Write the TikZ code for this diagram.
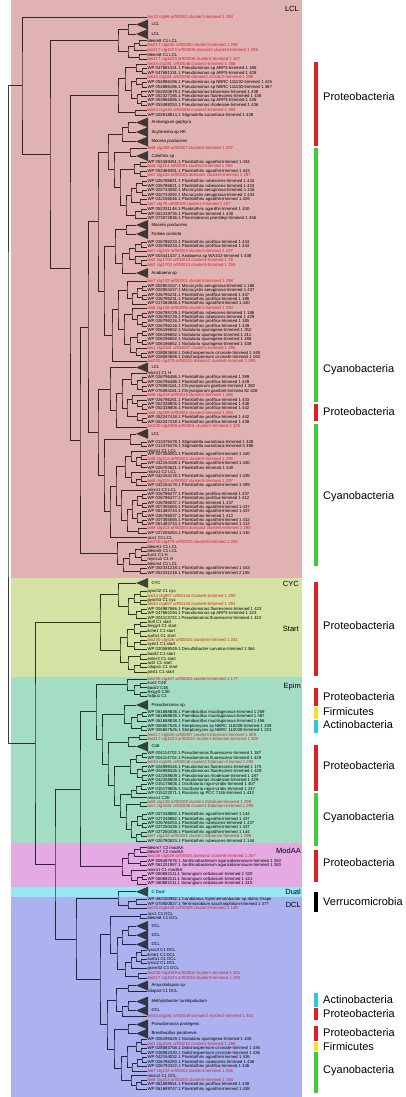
\documentclass[tikz,border=0pt]{standalone}
\usepackage{fontspec}
\setmainfont{Liberation Sans}
\usetikzlibrary{calc}
\definecolor{lclbg}{RGB}{224,178,178}
\definecolor{cycbg}{RGB}{212,226,163}
\definecolor{epibg}{RGB}{164,220,196}
\definecolor{modbg}{RGB}{228,170,228}
\definecolor{dualbg}{RGB}{150,232,245}
\definecolor{dclbg}{RGB}{172,178,240}
\definecolor{redt}{RGB}{215,30,40}
\definecolor{barred}{RGB}{225,30,35}
\definecolor{bargreen}{RGB}{60,205,60}
\definecolor{baryellow}{RGB}{245,225,40}
\definecolor{barcyan}{RGB}{40,200,235}
\tikzset{
 br/.style={draw=black,draw opacity=0.78,line width=0.55pt},
 lab/.style={anchor=west,inner sep=0.3pt,font=\fontsize{4.3}{4.3}\selectfont,text=black},
 redlab/.style={lab,text=redt},
 tri/.style={fill=black,fill opacity=0.7},
 regl/.style={anchor=east,inner sep=0pt,font=\fontsize{7.5}{7.5}\selectfont},
 taxon/.style={anchor=west,inner sep=0pt,font=\fontsize{11}{11}\selectfont},
 bar/.style={line width=3.2pt},
}
\newcommand\leafB[3]{\coordinate (#1) at (147,#2);\node[lab] (#1t) at (147,#2) {#3};}
\newcommand\leafR[3]{\coordinate (#1) at (147,#2);\node[redlab] (#1t) at (147,#2) {#3};}
\newcommand\triN[3]{\coordinate (#1) at (136,#2);\fill[tri] (136,#2) -- (148,#2-5) -- (148,#2+5) -- cycle;\node[lab] (#1t) at (151,#2) {#3};}
\newcommand\joinN[4]{\path let \p1=($(#3)!.5!(#4)$) in coordinate (#1) at (#2pt,\y1);\draw[br] (#3) -| (#1) |- (#4);}
\begin{document}
\begin{tikzpicture}[x=1pt,y=-1pt]
\useasboundingbox (0,0) rectangle (406,1097);
\fill[white] (0,0) rectangle (406,1097);
% regions
\fill[lclbg] (11,0) rectangle (302,578);
\fill[cycbg] (11,578) rectangle (302,677);
\fill[epibg] (11,677) rectangle (302,843);
\fill[modbg] (11,843) rectangle (302,887);
\fill[dualbg] (11,887) rectangle (302,897);
\fill[dclbg] (11,897) rectangle (302,1097);
\node[regl] (rLCL) at (299,9) {LCL};
\node[regl] (rCYC) at (299,584) {CYC};
\node[regl] (rStart) at (299,629) {Start};
\node[regl] (rEpim) at (301,687) {Epim};
\node[regl] (rMod) at (301,851) {ModAA};
\node[regl] (rDual) at (301,892) {Dual};
\node[regl] (rDCL) at (301,905) {DCL};
% leaves
\leafR{L1}{17}{bin13 ctg96 orf00002 cluster1-trimmed 1 294}
\triN{T1}{24.5}{LCL}
\triN{T2}{34}{LCL}
\leafB{L4}{40.7}{bleom8 C1 LCL}
\leafR{L5}{45.4}{bin217 ctg645 orf00050 cluster3-trimmed 1 298}
\leafR{L6}{50}{bin217 ctg1023 orf00008 domain2 cluster4-trimmed 1 296}
\leafB{L7}{54.7}{bleom8 C1 LCL}
\leafR{L8}{59.3}{bin217 ctg1023 orf00008 cluster4-trimmed 1 287}
\leafR{L9}{64}{bin34 ctg181 orf00048 cluster2-trimmed 1 298}
\leafB{L10}{68.6}{WP 047681331.1 Pseudomonas sp ARP3-trimmed 1 186}
\leafB{L11}{73.2}{WP 047681331.1 Pseudomonas sp ARP3-trimmed 1 428}
\leafR{L12}{77.8}{bin34 ctg181 orf00048 domain2 cluster2-trimmed 1 298}
\leafB{L13}{82.4}{WP 054886186.1 Pseudomonas sp NBRC 111130-trimmed 1 415}
\leafB{L14}{87}{WP 054886186.1 Pseudomonas sp NBRC 111130-trimmed 1 367}
\leafB{L15}{91.6}{WP 052020679.1 Pseudomonas kilonensis-trimmed 1 438}
\leafB{L16}{96.2}{WP 052327185.1 Pseudomonas fluorescens-trimmed 1 436}
\leafB{L17}{100.8}{WP 053966086.1 Pseudomonas sp ARP3-trimmed 1 436}
\leafB{L18}{105.4}{WP 053488253.1 Pseudomonas rhodesiae-trimmed 1 436}
\leafR{L19}{110.2}{bin54 ctg410 orf00004 cluster2-trimmed 1 290}
\leafB{L20}{115}{WP 002618814.1 Stigmatella aurantiaca-trimmed 1 428}
\triN{T3}{122.5}{Archangium gephyra}
\triN{T4}{132}{Scytonema sp HK}
\triN{T5}{141.5}{Moorea producens}
\leafR{L24}{148.5}{bin8 ctg208 orf00007 cluster2-trimmed 1 297}
\triN{T6}{156}{Calothrix sp}
\leafB{L26}{162}{WP 052469451.1 Planktothrix agardhii-trimmed 1 434}
\leafR{L27}{166.5}{bin8 ctg114 orf00001 cluster3-trimmed 1 293}
\leafB{L28}{171}{WP 052469451.1 Planktothrix agardhii-trimmed 1 443}
\leafR{L29}{175.8}{bin7 ctg132 orf00003 domain2 cluster4-trimmed 1 297}
\leafB{L30}{181}{WP 026786821.1 Planktothrix rubescens-trimmed 1 443}
\leafB{L31}{185.7}{WP 026786821.1 Planktothrix rubescens-trimmed 1 434}
\leafB{L32}{190.3}{WP 002733092.1 Microcystis aeruginosa-trimmed 1 416}
\leafB{L33}{195}{WP 002733092.1 Microcystis aeruginosa-trimmed 1 433}
\leafB{L34}{199.6}{WP 042156046.1 Planktothrix agardhii-trimmed 1 429}
\leafR{L35}{204.3}{bin7 ctg78 orf00009 cluster1-trimmed 1 287}
\leafB{L36}{209}{WP 052331148.1 Planktothrix agardhii-trimmed 1 440}
\leafB{L37}{213.6}{WP 051319735.1 Planktothrix-trimmed 1 440}
\leafB{L38}{218.3}{WP 073072836.1 Phormidesmis priestleyi-trimmed 1 436}
\triN{T7}{225}{Moorea producens}
\triN{T8}{234}{Fortiea contorta}
\leafB{L41}{242.3}{WP 026786233.1 Planktothrix prolifica-trimmed 1 434}
\leafB{L42}{246.8}{WP 026786233.1 Planktothrix prolifica-trimmed 1 443}
\leafR{L43}{251.3}{bin7 ctg132 orf00003 cluster4-trimmed 1 297}
\leafB{L44}{256}{WP 003441437.1 Anabaena sp WA102-trimmed 1 438}
\leafR{L45}{260.6}{bin2 ctg1700 orf00013 cluster3-trimmed 1 76}
\leafR{L46}{265.2}{bin2 ctg1700 orf00014 cluster3-trimmed 1 155}
\triN{T9}{273}{Anabaena sp}
\leafR{L48}{281.7}{bin7 ctg132 orf00001 cluster4-trimmed 1 298}
\leafB{L49}{286.2}{WP 002804157.1 Microcystis aeruginosa-trimmed 1 186}
\leafB{L50}{290.6}{WP 002804157.1 Microcystis aeruginosa-trimmed 1 437}
\leafB{L51}{295}{WP 026795231.1 Planktothrix prolifica-trimmed 1 437}
\leafB{L52}{299.4}{WP 026795231.1 Planktothrix prolifica-trimmed 1 186}
\leafB{L53}{303.8}{WP 017262648.1 Planktothrix agardhii-trimmed 1 440}
\leafR{L54}{308.3}{bin8 ctg138 orf00006 cluster1-trimmed 1 290}
\leafB{L55}{312.8}{WP 026785729.1 Planktothrix rubescens-trimmed 1 186}
\leafB{L56}{317.3}{WP 026785729.1 Planktothrix rubescens-trimmed 1 429}
\leafB{L57}{321.8}{WP 026796216.1 Planktothrix prolifica-trimmed 1 185}
\leafB{L58}{326.3}{WP 026796216.1 Planktothrix prolifica-trimmed 1 439}
\leafB{L59}{330.8}{WP 006196652.1 Nodularia spumigena-trimmed 1 352}
\leafB{L60}{335.3}{WP 006196652.1 Nodularia spumigena-trimmed 1 411}
\leafB{L61}{339.8}{WP 006196652.1 Nodularia spumigena-trimmed 1 186}
\leafB{L62}{344.3}{WP 006196652.1 Nodularia spumigena-trimmed 1 438}
\leafR{L63}{348.7}{bin1 ctg2181 orf00007 cluster1-trimmed 1 290}
\leafB{L64}{353}{WP 028083658.1 Dolichospermum circinale-trimmed 1 449}
\leafB{L65}{357.3}{WP 028083658.1 Dolichospermum circinale-trimmed 1 163}
\leafR{L66}{361.5}{bin230 ctg478 orf00015 domain2 cluster5-trimmed 1 295}
\triN{T10}{367.5}{LCL}
\leafB{L68}{373.3}{micro1 C1 H}
\leafB{L69}{377.7}{WP 026796486.1 Planktothrix prolifica-trimmed 1 399}
\leafB{L70}{382.2}{WP 026796486.1 Planktothrix prolifica-trimmed 1 429}
\leafB{L71}{386.7}{WP 076084161.1 Chrysosporum gambirii-trimmed 1 382}
\leafB{L72}{391.1}{WP 076084161.1 Chrysosporum gambirii-trimmed 82 328}
\leafR{L73}{395.6}{bin8 ctg218 orf00013 cluster1-trimmed 1 286}
\leafB{L74}{400}{WP 026796261.1 Planktothrix prolifica-trimmed 1 433}
\leafB{L75}{404.4}{WP 052338806.1 Planktothrix prolifica-trimmed 1 438}
\leafB{L76}{408.8}{WP 052338806.1 Planktothrix prolifica-trimmed 1 442}
\leafR{L77}{413.3}{bin8 ctg208 orf00002 cluster2-trimmed 1 284}
\leafB{L78}{417.8}{WP 052247418.1 Planktothrix prolifica-trimmed 1 442}
\leafB{L79}{422.3}{WP 052247418.1 Planktothrix prolifica-trimmed 1 438}
\leafR{L80}{426.8}{bin230 ctg2069 orf00001 cluster1-trimmed 1 325}
\triN{T11}{433.8}{LCL}
\leafB{L82}{442.3}{WP 013376478.1 Stigmatella aurantiaca-trimmed 1 428}
\leafB{L83}{446.7}{WP 013376478.1 Stigmatella aurantiaca-trimmed 5 396}
\leafB{L84}{450.8}{micro1 C1 LCL}
\leafB{L85}{454.8}{WP 007355054.1 Planktothrix agardhii-trimmed 1 440}
\leafR{L86}{459}{bin8 ctg213 orf00003 cluster5-trimmed 1 295}
\leafB{L87}{463.3}{WP 042154168.1 Planktothrix agardhii-trimmed 1 440}
\leafB{L88}{467.7}{WP 026782621.1 Planktothrix-trimmed 1 440}
\leafB{L89}{472.2}{micro1 C2 LCL}
\leafB{L90}{476.6}{WP 042154178.1 Planktothrix agardhii-trimmed 1 435}
\leafR{L91}{481}{bin8 ctg215 orf00002 cluster5-trimmed 1 297}
\leafB{L92}{485.5}{WP 042154178.1 Planktothrix agardhii-trimmed 1 399}
\leafB{L93}{490}{micro1 C2 LCL}
\leafB{L94}{494.3}{WP 026796477.1 Planktothrix prolifica-trimmed 1 437}
\leafB{L95}{498.6}{WP 026796477.1 Planktothrix prolifica-trimmed 1 412}
\leafB{L96}{502.9}{WP 026786037.1 Planktothrix-trimmed 1 437}
\leafB{L97}{507.2}{WP 007355065.1 Planktothrix agardhii-trimmed 1 437}
\leafB{L98}{511.5}{WP 061483743.1 Planktothrix agardhii-trimmed 1 437}
\leafB{L99}{515.8}{WP 026786037.1 Planktothrix-trimmed 1 412}
\leafB{L100}{520.1}{WP 007355065.1 Planktothrix agardhii-trimmed 1 412}
\leafB{L101}{524.4}{WP 061483743.1 Planktothrix agardhii-trimmed 1 412}
\leafR{L102}{528.7}{bin8 ctg213 orf00003 domain2 cluster5-trimmed 1 295}
\leafB{L103}{533.2}{WP 027255263.1 Planktothrix agardhii-trimmed 1 410}
\leafB{L104}{537.7}{acv1 C1 LCL}
\leafR{L105}{542.4}{bin230 ctg478 orf00015 cluster5-trimmed 1 293}
\leafB{L106}{546.8}{bleom1 C1 LCL}
\leafB{L107}{551.1}{bleom5 C1 LCL}
\leafB{L108}{555.4}{itun1 C1 H}
\leafB{L109}{559.8}{mycsu1 C1 H}
\leafB{L110}{564.2}{bleom4 C1 LCL}
\leafB{L111}{568.6}{WP 052331218.1 Planktothrix agardhii-trimmed 1 443}
\leafB{L112}{573}{WP 052331218.1 Planktothrix agardhii-trimmed 2 155}
\triN{T12}{583}{CYC}
\leafB{L114}{591.7}{pyoch2 C1 cyc}
\leafR{L115}{596}{bin34 ctg857 orf00144 cluster6-trimmed 1 290}
\leafB{L116}{600.3}{pyoch3 C1 cyc}
\leafR{L117}{604.7}{bin34 ctg857 orf00143 cluster6-trimmed 1 291}
\leafB{L118}{609.1}{WP 004987666.1 Pseudomonas fluorescens-trimmed 1 423}
\leafB{L119}{613.5}{WP 047682194.1 Pseudomonas sp ARP3-trimmed 1 423}
\leafB{L120}{617.9}{WP 004113723.1 Pseudomonas fluorescens-trimmed 1 423}
\leafB{L121}{622.3}{Sofl C1 start}
\leafB{L122}{626.7}{fengy3 C1 start}
\leafB{L123}{631.3}{liche1 C1 start}
\leafB{L124}{635.8}{surfa1 C1 start}
\leafR{L125}{640.3}{bin230 ctg526 orf00024 cluster6-trimmed 1 281}
\leafB{L126}{644.7}{syrin1 C1 start}
\leafB{L127}{649.2}{WP 020589049.1 Desulfobacter curvatus-trimmed 1 364}
\leafB{L128}{654.2}{bacil2 C1 start}
\leafB{L129}{658.8}{enter3 C1 start}
\leafB{L130}{663.3}{act2 C1 start}
\leafB{L131}{667.7}{cdaps1 C1 start}
\leafB{L132}{672.2}{prist1 C1 start}
\leafR{L133}{679}{bin235 ctg407 orf00014 cluster3-trimmed 1 177}
\leafB{L134}{683.3}{itun2 C4E}
\leafB{L135}{687.7}{bacit2 C4E}
\leafB{L136}{692.2}{fengy5 C3E}
\leafB{L137}{696.6}{hclpu1 C1}
\triN{T13}{705}{Pseudomonas sp.}
\leafB{L139}{712}{WP 061668838.1 Paenibacillus mucilaginosus-trimmed 1 259}
\leafB{L140}{716.5}{WP 061668838.1 Paenibacillus mucilaginosus-trimmed 1 387}
\leafB{L141}{721.2}{WP 061668838.1 Paenibacillus mucilaginosus-trimmed 1 456}
\leafB{L142}{726}{WP 055657526.1 Streptomyces sp NBRC 110028-trimmed 1 439}
\leafB{L143}{730.4}{WP 055657526.1 Streptomyces sp NBRC 110028-trimmed 1 223}
\leafR{L144}{735}{bin217 ctg645 orf00057 cluster3 Edomain-trimmed 1 309}
\leafR{L145}{739.6}{bin217 ctg1023 orf00010 cluster4 Edomain-trimmed 1 300}
\triN{T14}{746.5}{CoE}
\leafB{L147}{753.3}{WP 004114702.1 Pseudomonas fluorescens-trimmed 1 187}
\leafB{L148}{757.7}{WP 004114702.1 Pseudomonas fluorescens-trimmed 1 429}
\leafR{L149}{762.2}{bin34 ctg181 orf00046 cluster2 Edomain-trimmed 1 292}
\leafB{L150}{766.6}{WP 004998426.1 Pseudomonas fluorescens-trimmed 1 175}
\leafB{L151}{771}{WP 004998426.1 Pseudomonas fluorescens-trimmed 1 429}
\leafB{L152}{775.5}{WP 042258609.1 Pseudomonas rhodesiae-trimmed 1 187}
\leafB{L153}{780}{WP 042258609.1 Pseudomonas rhodesiae-trimmed 1 429}
\leafB{L154}{784.4}{WP 015178606.1 Oscillatoria nigro-viridis-trimmed 1 407}
\leafB{L155}{788.9}{WP 015178606.1 Oscillatoria nigro-viridis-trimmed 1 247}
\leafB{L156}{793.3}{WP 015122071.1 Rivularia sp PCC 7116-trimmed 1 432}
\leafB{L157}{797.7}{micro1 C2E}
\leafR{L158}{802.2}{bin8 ctg138 orf00008 cluster1 Edomain-trimmed 1 299}
\leafR{L159}{806.7}{bin1 ctg2181 orf00008 cluster1 Edomain-trimmed 1 299}
\leafB{L160}{814.5}{WP 027248882.1 Planktothrix agardhii-trimmed 1 144}
\leafB{L161}{818.9}{WP 027248882.1 Planktothrix agardhii-trimmed 1 437}
\leafB{L162}{823.3}{WP 026786253.1 Planktothrix rubescens-trimmed 1 437}
\leafB{L163}{827.7}{WP 027250438.1 Planktothrix agardhii-trimmed 1 437}
\leafB{L164}{832.1}{WP 027250438.1 Planktothrix agardhii-trimmed 1 144}
\leafR{L165}{836.6}{bin7 ctg132 orf00001 cluster1 Edomain-trimmed 1 298}
\leafB{L166}{841}{WP 026780823.1 Planktothrix rubescens-trimmed 1 144}
\leafB{L167}{847.5}{bleom7 C2 modAA}
\leafB{L168}{852}{bleom7 C2 modAA}
\leafR{L169}{856.5}{bin236 ctg526 orf00024 domain2 cluster6-trimmed 1 267}
\leafB{L170}{861}{WP 008487676.1 Janthinobacterium agaricidamnosum-trimmed 1 363}
\leafB{L171}{865.5}{WP 061201987.1 Janthinobacterium agaricidamnosum-trimmed 1 383}
\leafB{L172}{870.2}{micro1 C1 modAA}
\leafB{L173}{874.8}{WP 060682111.1 Sorangium cellulosum-trimmed 2 320}
\leafB{L174}{879.3}{WP 060682111.1 Sorangium cellulosum-trimmed 1 421}
\leafB{L175}{883.8}{WP 060682111.1 Sorangium cellulosum-trimmed 1 415}
\triN{T15}{891.7}{C Dual}
\leafB{L177}{899.5}{WP 062100982.1 Candidatus Xiphinematobacter sp Idaho Grape}
\leafB{L178}{904}{WP 070500827.1 Terrimicrobium sacchariphilum-trimmed 1 377}
\leafR{L179}{908.4}{bin78 ctg6448 orf00009 cluster4-trimmed 1 139}
\leafB{L180}{913.8}{acv1 C1 DCL}
\leafB{L181}{918.2}{bleom8 C1 DCL}
\triN{T16}{926}{DCL}
\triN{T17}{935.2}{DCL}
\triN{T18}{944.4}{DCL}
\leafB{L185}{950.5}{tyroc3 C1 DCL}
\leafB{L186}{954.9}{liche1 C1 DCL}
\leafB{L187}{959.3}{surfa1 C1 DCL}
\leafB{L188}{963.7}{tyroc2 C1 DCL}
\leafB{L189}{968.1}{gramS2 C1 DCL}
\leafR{L190}{973.5}{bin230 ctg2069 orf00002 cluster1-trimmed 1 301}
\leafR{L191}{978.3}{bin217 ctg1023 orf00010 cluster4-trimmed 1 293}
\triN{T19}{985.5}{Amycolatopsis sp}
\leafB{L193}{991.7}{cdaps3 C1 DCL}
\triN{T20}{1001.5}{Methylobacter tundripaludum}
\triN{T21}{1010.5}{DCL}
\leafR{L196}{1016}{bin34 ctg181 orf00048 domain3 cluster2-trimmed 1 300}
\triN{T22}{1024.5}{Pseudomonas protegens}
\triN{T23}{1033.5}{Brevibacillus parabrevis}
\leafB{L199}{1039.7}{WP 006195529.1 Nodularia spumigena-trimmed 1 435}
\leafR{L200}{1044.1}{bin1 ctg2181 orf00010 cluster1-trimmed 1 296}
\leafB{L201}{1048.6}{WP 028083758.1 Dolichospermum circinale-trimmed 1 436}
\leafB{L202}{1053}{WP 028082420.1 Dolichospermum circinale-trimmed 1 436}
\leafB{L203}{1057.5}{WP 042154032.1 Planktothrix agardhii-trimmed 1 436}
\leafB{L204}{1062}{WP 026786283.1 Planktothrix rubescens-trimmed 1 436}
\leafB{L205}{1066.5}{WP 026792322.1 Planktothrix prolifica-trimmed 1 436}
\leafR{L206}{1071}{bin7 ctg132 orf00002 cluster4-trimmed 1 296}
\leafB{L207}{1075.5}{micro2 C1 DCL}
\leafR{L208}{1080}{bin8 ctg213 orf00003 cluster5-trimmed 1 165}
\leafB{L209}{1084.5}{WP 061689551.1 Planktothrix prolifica-trimmed 1 438}
\leafB{L210}{1089}{WP 061689747.1 Planktothrix agardhii-trimmed 1 438}
% ---- tree: LCL
\joinN{q1}{128}{T1}{T2}
\joinN{a2}{139}{L4}{L5}
\joinN{a3}{134}{a2}{L6}
\joinN{a4}{139}{L7}{L8}
\joinN{a5}{128}{a3}{a4}
\joinN{q2}{118}{q1}{a5}
\joinN{b1}{142}{L10}{L11}
\joinN{b2}{136}{L9}{b1}
\joinN{b3}{142}{L13}{L14}
\joinN{b4}{136}{L12}{b3}
\joinN{b5}{141}{L15}{L16}
\joinN{b6}{141}{L17}{L18}
\joinN{b7}{137}{b5}{b6}
\joinN{b8}{131}{b4}{b7}
\joinN{b9}{125}{b2}{b8}
\joinN{b10}{135}{L19}{L20}
\joinN{b11}{118}{b9}{b10}
\joinN{c1}{128}{T3}{T4}
\joinN{c2}{122}{c1}{T5}
\joinN{c3}{130}{L24}{T6}
\joinN{d1}{140}{L26}{L27}
\joinN{d2}{140}{L28}{L29}
\joinN{d3}{134}{d1}{d2}
\joinN{e1}{142}{L30}{L31}
\joinN{e2}{142}{L32}{L33}
\joinN{e3}{136}{e1}{e2}
\joinN{e4}{140}{L34}{L35}
\joinN{e5}{131}{e3}{e4}
\joinN{e6}{141}{L36}{L37}
\joinN{e7}{135}{e6}{L38}
\joinN{e8}{126}{e5}{e7}
\joinN{f1}{120}{d3}{e8}
\joinN{f2}{114}{c3}{f1}
\joinN{f3}{108}{c2}{f2}
\joinN{g1}{126}{T7}{T8}
\joinN{g2}{141}{L41}{L42}
\joinN{g3}{135}{g2}{L43}
\joinN{g4}{141}{L45}{L46}
\joinN{g5}{135}{L44}{g4}
\joinN{g6}{129}{g3}{g5}
\joinN{g7}{122}{g6}{T9}
\joinN{g8}{115}{g1}{g7}
\joinN{h1}{142}{L49}{L50}
\joinN{h2}{142}{L51}{L52}
\joinN{h3}{137}{h1}{h2}
\joinN{h4}{132}{h3}{L53}
\joinN{h5}{127}{L48}{h4}
\joinN{h6}{142}{L55}{L56}
\joinN{h7}{142}{L57}{L58}
\joinN{h8}{137}{h6}{h7}
\joinN{h9}{132}{L54}{h8}
\joinN{h10}{142}{L59}{L60}
\joinN{h11}{142}{L61}{L62}
\joinN{h12}{137}{h10}{h11}
\joinN{h13}{141}{L64}{L65}
\joinN{h14}{136}{L63}{h13}
\joinN{h15}{130}{h12}{h14}
\joinN{h16}{124}{h9}{h15}
\joinN{h17}{118}{h5}{h16}
\joinN{h18}{112}{h17}{L66}
\joinN{i1}{104}{g8}{h18}
\joinN{i2}{98}{f3}{i1}
\joinN{k1}{142}{L69}{L70}
\joinN{k2}{142}{L71}{L72}
\joinN{k3}{137}{k1}{k2}
\joinN{k4}{131}{L68}{k3}
\joinN{k5}{142}{L75}{L76}
\joinN{k6}{137}{L74}{k5}
\joinN{k7}{132}{L73}{k6}
\joinN{k8}{142}{L78}{L79}
\joinN{k9}{137}{L77}{k8}
\joinN{k10}{127}{k7}{k9}
\joinN{k11}{122}{k4}{k10}
\joinN{k12}{116}{k11}{L80}
\joinN{k13}{110}{T10}{k12}
\joinN{m1}{141}{L82}{L83}
\joinN{m2}{130}{T11}{m1}
\joinN{n1}{141}{L85}{L86}
\joinN{n2}{141}{L87}{L88}
\joinN{n3}{136}{n1}{n2}
\joinN{n4}{131}{L84}{n3}
\joinN{n5}{141}{L90}{L91}
\joinN{n6}{136}{n5}{L92}
\joinN{n7}{131}{L89}{n6}
\joinN{n8}{125}{n4}{n7}
\joinN{n9}{142}{L94}{L95}
\joinN{n10}{142}{L96}{L97}
\joinN{n11}{142}{L98}{L99}
\joinN{n12}{142}{L100}{L101}
\joinN{n13}{137}{n9}{n10}
\joinN{n14}{137}{n11}{n12}
\joinN{n15}{132}{n13}{n14}
\joinN{n16}{138}{L102}{L103}
\joinN{n17}{127}{n15}{n16}
\joinN{n18}{121}{L93}{n17}
\joinN{n19}{116}{n8}{n18}
\joinN{n20}{110}{n19}{L104}
\joinN{o1}{104}{m2}{n20}
\joinN{o2}{98}{k13}{o1}
\joinN{p1}{141}{L106}{L107}
\joinN{p2}{141}{L108}{L109}
\joinN{p3}{135}{p1}{p2}
\joinN{p4}{129}{p3}{L110}
\joinN{p5}{140}{L111}{L112}
\joinN{p6}{123}{p4}{p5}
\joinN{p7}{117}{L105}{p6}
\joinN{z1}{88}{i2}{o2}
\joinN{z2}{80}{z1}{p7}
\joinN{z3}{70}{b11}{z2}
\joinN{z4}{50}{q2}{z3}
\joinN{z5}{22}{L1}{z4}
% ---- CYC / Start
\joinN{r1}{140}{L114}{L115}
\joinN{r2}{140}{L116}{L117}
\joinN{r3}{134}{r1}{r2}
\joinN{r4}{141}{L118}{L119}
\joinN{r5}{136}{r4}{L120}
\joinN{r6}{128}{r3}{r5}
\joinN{r7}{118}{T12}{r6}
\joinN{s1}{140}{L121}{L122}
\joinN{s2}{140}{L123}{L124}
\joinN{s3}{134}{s1}{s2}
\joinN{s4}{140}{L125}{L126}
\joinN{s5}{134}{s4}{L127}
\joinN{s6}{127}{s3}{s5}
\joinN{s7}{140}{L128}{L129}
\joinN{s8}{140}{L130}{L131}
\joinN{s9}{134}{s8}{L132}
\joinN{s10}{128}{s7}{s9}
\joinN{s11}{120}{s6}{s10}
\joinN{cs}{100}{r7}{s11}
% ---- Epim
\joinN{t1}{140}{L134}{L135}
\joinN{t2}{140}{L136}{L137}
\joinN{t3}{134}{t1}{t2}
\joinN{t4}{127}{L133}{t3}
\joinN{t5}{142}{L139}{L140}
\joinN{t6}{137}{t5}{L141}
\joinN{t7}{141}{L142}{L143}
\joinN{t8}{131}{t6}{t7}
\joinN{t9}{124}{T13}{t8}
\joinN{t10}{139}{L144}{L145}
\joinN{t11}{128}{t10}{T14}
\joinN{t12}{142}{L147}{L148}
\joinN{t13}{136}{t12}{L149}
\joinN{t14}{142}{L150}{L151}
\joinN{t15}{142}{L152}{L153}
\joinN{t16}{137}{t14}{t15}
\joinN{t17}{130}{t13}{t16}
\joinN{t18}{141}{L154}{L155}
\joinN{t19}{136}{t18}{L156}
\joinN{t20}{131}{t19}{L157}
\joinN{t21}{140}{L158}{L159}
\joinN{t22}{142}{L160}{L161}
\joinN{t23}{142}{L162}{L163}
\joinN{t24}{137}{t22}{t23}
\joinN{t25}{141}{L164}{L165}
\joinN{t26}{136}{t25}{L166}
\joinN{t27}{131}{t24}{t26}
\joinN{t28}{126}{t21}{t27}
\joinN{t29}{120}{t20}{t28}
\joinN{t30}{114}{t17}{t29}
\joinN{t31}{108}{t11}{t30}
\joinN{t32}{102}{t9}{t31}
\joinN{t33}{96}{t4}{t32}
% ---- ModAA
\joinN{u1}{140}{L167}{L168}
\joinN{u2}{134}{u1}{L169}
\joinN{u3}{140}{L170}{L171}
\joinN{u4}{128}{u2}{u3}
\joinN{u5}{142}{L173}{L174}
\joinN{u6}{137}{u5}{L175}
\joinN{u7}{131}{L172}{u6}
\joinN{u8}{122}{u4}{u7}
% ---- Dual
\joinN{v1}{136}{L177}{L178}
\joinN{v2}{128}{v1}{L179}
\joinN{v3}{118}{T15}{v2}
% ---- DCL
\joinN{w1}{140}{L180}{L181}
\joinN{w2}{128}{T16}{T17}
\joinN{w3}{122}{w2}{T18}
\joinN{w4}{141}{L185}{L186}
\joinN{w5}{141}{L187}{L188}
\joinN{w6}{136}{w4}{w5}
\joinN{w7}{131}{w6}{L189}
\joinN{w8}{138}{L190}{L191}
\joinN{w9}{125}{w7}{w8}
\joinN{w10}{117}{w3}{w9}
\joinN{w11}{110}{w1}{w10}
\joinN{w12}{128}{T19}{L193}
\joinN{w13}{128}{T20}{T21}
\joinN{w14}{122}{w13}{L196}
\joinN{w15}{116}{w12}{w14}
\joinN{w16}{128}{T22}{T23}
\joinN{w17}{141}{L199}{L200}
\joinN{w18}{141}{L201}{L202}
\joinN{w19}{136}{w17}{w18}
\joinN{w20}{142}{L203}{L204}
\joinN{w21}{137}{w20}{L205}
\joinN{w22}{132}{w21}{L206}
\joinN{w23}{127}{w19}{w22}
\joinN{w24}{141}{L208}{L209}
\joinN{w25}{136}{w24}{L210}
\joinN{w26}{131}{L207}{w25}
\joinN{w27}{121}{w23}{w26}
\joinN{w28}{114}{w16}{w27}
\joinN{w29}{107}{w15}{w28}
\joinN{w30}{100}{w11}{w29}
% ---- backbone
\joinN{y1}{80}{t33}{u8}
\joinN{y2}{76}{v3}{w30}
\joinN{y3}{55}{y1}{y2}
\joinN{y4}{35}{cs}{y3}
\joinN{root}{8}{z5}{y4}
% ---- taxa bars
\draw[bar,barred] (316,62) -- (316,146);
\node[taxon] (tx1) at (323,97) {Proteobacteria};
\draw[bar,bargreen] (316,148) -- (316,402);
\node[taxon] (tx2) at (323,370) {Cyanobacteria};
\draw[bar,barred] (316,404) -- (316,421);
\node[taxon] (tx3) at (323,412) {Proteobacteria};
\draw[bar,bargreen] (316,424) -- (316,566);
\node[taxon] (tx4) at (323,497) {Cyanobacteria};
\draw[bar,barred] (316,582) -- (316,676);
\node[taxon] (tx5) at (323,626) {Proteobacteria};
\draw[bar,barred] (316,688) -- (316,706);
\node[taxon] (tx6) at (323,697) {Proteobacteria};
\draw[bar,baryellow] (316,707) -- (316,719);
\node[taxon] (tx7) at (323,712) {Firmicutes};
\draw[bar,barcyan] (316,720) -- (316,733);
\node[taxon] (tx8) at (323,725) {Actinobacteria};
\draw[bar,barred] (316,745) -- (316,791);
\node[taxon] (tx9) at (323,766) {Proteobacteria};
\draw[bar,bargreen] (316,793) -- (316,846);
\node[taxon] (tx10) at (323,818) {Cyanobacteria};
\draw[bar,barred] (316,850) -- (316,882);
\node[taxon] (tx11) at (323,863) {Proteobacteria};
\draw[bar,black] (316,892) -- (316,912);
\node[taxon] (tx12) at (323,902) {Verrucomicrobia};
\draw[bar,barcyan] (316,993) -- (316,1007);
\node[taxon] (tx13) at (323,1000) {Actinobacteria};
\draw[bar,barred] (316,1008) -- (316,1020);
\node[taxon] (tx14) at (323,1014) {Proteobacteria};
\draw[bar,barred] (316,1026) -- (316,1041);
\node[taxon] (tx15) at (323,1033) {Proteobacteria};
\draw[bar,baryellow] (316,1042) -- (316,1051);
\node[taxon] (tx16) at (323,1047) {Firmicutes};
\draw[bar,bargreen] (316,1052) -- (316,1093);
\node[taxon] (tx17) at (323,1071) {Cyanobacteria};
\end{tikzpicture}
\end{document}
